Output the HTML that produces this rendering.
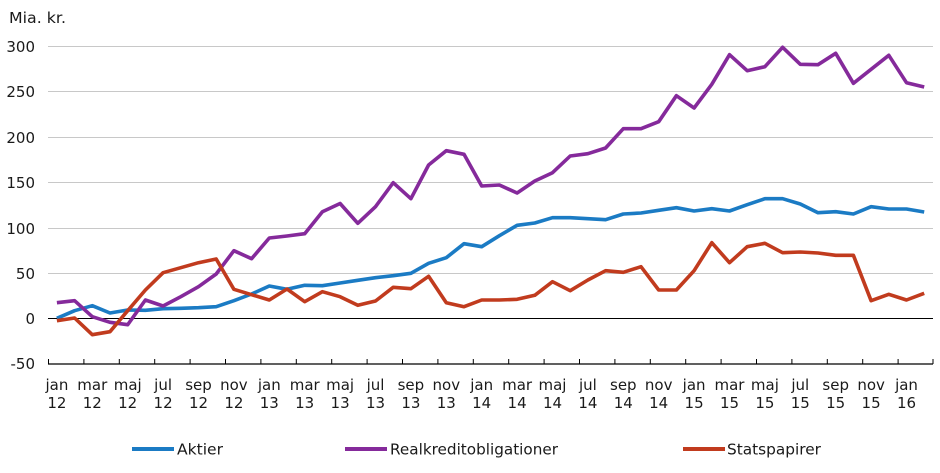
<!DOCTYPE html>
<html>
<head>
<meta charset="utf-8">
<style>
  html,body{margin:0;padding:0;background:#fff;}
  svg{display:block;}
  text{font-family:"DejaVu Sans","Liberation Sans",sans-serif;fill:#1a1a1a;font-size:15px;}
</style>
</head>
<body>
<svg width="940" height="473" viewBox="0 0 940 473" xmlns="http://www.w3.org/2000/svg">
  <rect width="940" height="473" fill="#fff"/>
  <text x="9" y="23" textLength="57" lengthAdjust="spacingAndGlyphs">Mia. kr.</text>

  <!-- gridlines -->
  <g stroke="#c8c8c8" stroke-width="1">
    <line x1="48" y1="46.5" x2="933" y2="46.5"/>
    <line x1="48" y1="91.5" x2="933" y2="91.5"/>
    <line x1="48" y1="137.5" x2="933" y2="137.5"/>
    <line x1="48" y1="182.5" x2="933" y2="182.5"/>
    <line x1="48" y1="228.5" x2="933" y2="228.5"/>
    <line x1="48" y1="273.5" x2="933" y2="273.5"/>
  </g>
  <line x1="48" y1="318.5" x2="933" y2="318.5" stroke="#000" stroke-width="1"/>
  <line x1="48" y1="364" x2="933" y2="364" stroke="#000" stroke-width="1.3"/>

  <!-- y labels -->
  <g text-anchor="end">
    <text x="35" y="52">300</text>
    <text x="35" y="97">250</text>
    <text x="35" y="143">200</text>
    <text x="35" y="188">150</text>
    <text x="35" y="234">100</text>
    <text x="35" y="279">50</text>
    <text x="35" y="324">0</text>
    <text x="35" y="369">-50</text>
  </g>

  <!-- ticks -->
  <g stroke="#000" stroke-width="1">
    <line x1="48.5" y1="359" x2="48.5" y2="364"/>
    <line x1="83.9" y1="359" x2="83.9" y2="364"/>
    <line x1="119.3" y1="359" x2="119.3" y2="364"/>
    <line x1="154.7" y1="359" x2="154.7" y2="364"/>
    <line x1="190.1" y1="359" x2="190.1" y2="364"/>
    <line x1="225.5" y1="359" x2="225.5" y2="364"/>
    <line x1="260.9" y1="359" x2="260.9" y2="364"/>
    <line x1="296.3" y1="359" x2="296.3" y2="364"/>
    <line x1="331.7" y1="359" x2="331.7" y2="364"/>
    <line x1="367.1" y1="359" x2="367.1" y2="364"/>
    <line x1="402.5" y1="359" x2="402.5" y2="364"/>
    <line x1="437.9" y1="359" x2="437.9" y2="364"/>
    <line x1="473.3" y1="359" x2="473.3" y2="364"/>
    <line x1="508.7" y1="359" x2="508.7" y2="364"/>
    <line x1="544.1" y1="359" x2="544.1" y2="364"/>
    <line x1="579.5" y1="359" x2="579.5" y2="364"/>
    <line x1="614.9" y1="359" x2="614.9" y2="364"/>
    <line x1="650.3" y1="359" x2="650.3" y2="364"/>
    <line x1="685.7" y1="359" x2="685.7" y2="364"/>
    <line x1="721.1" y1="359" x2="721.1" y2="364"/>
    <line x1="756.5" y1="359" x2="756.5" y2="364"/>
    <line x1="791.9" y1="359" x2="791.9" y2="364"/>
    <line x1="827.3" y1="359" x2="827.3" y2="364"/>
    <line x1="862.7" y1="359" x2="862.7" y2="364"/>
    <line x1="898.1" y1="359" x2="898.1" y2="364"/>
    <line x1="933" y1="359" x2="933" y2="364"/>
  </g>

  <!-- x labels -->
  <g text-anchor="middle">
    <text x="56.9" y="390">jan</text><text x="56.9" y="408">12</text>
    <text x="92.3" y="390">mar</text><text x="92.3" y="408">12</text>
    <text x="127.7" y="390">maj</text><text x="127.7" y="408">12</text>
    <text x="163.1" y="390">jul</text><text x="163.1" y="408">12</text>
    <text x="198.5" y="390">sep</text><text x="198.5" y="408">12</text>
    <text x="233.9" y="390">nov</text><text x="233.9" y="408">12</text>
    <text x="269.3" y="390">jan</text><text x="269.3" y="408">13</text>
    <text x="304.7" y="390">mar</text><text x="304.7" y="408">13</text>
    <text x="340.1" y="390">maj</text><text x="340.1" y="408">13</text>
    <text x="375.5" y="390">jul</text><text x="375.5" y="408">13</text>
    <text x="410.9" y="390">sep</text><text x="410.9" y="408">13</text>
    <text x="446.3" y="390">nov</text><text x="446.3" y="408">13</text>
    <text x="481.7" y="390">jan</text><text x="481.7" y="408">14</text>
    <text x="517.1" y="390">mar</text><text x="517.1" y="408">14</text>
    <text x="552.5" y="390">maj</text><text x="552.5" y="408">14</text>
    <text x="587.9" y="390">jul</text><text x="587.9" y="408">14</text>
    <text x="623.3" y="390">sep</text><text x="623.3" y="408">14</text>
    <text x="658.7" y="390">nov</text><text x="658.7" y="408">14</text>
    <text x="694.1" y="390">jan</text><text x="694.1" y="408">15</text>
    <text x="729.5" y="390">mar</text><text x="729.5" y="408">15</text>
    <text x="764.9" y="390">maj</text><text x="764.9" y="408">15</text>
    <text x="800.3" y="390">jul</text><text x="800.3" y="408">15</text>
    <text x="835.7" y="390">sep</text><text x="835.7" y="408">15</text>
    <text x="871.1" y="390">nov</text><text x="871.1" y="408">15</text>
    <text x="906.5" y="390">jan</text><text x="906.5" y="408">16</text>
  </g>

  <!-- series -->
  <g fill="none" stroke-width="3.6" stroke-linejoin="round" stroke-linecap="butt">
    <!-- Aktier -->
    <polyline stroke="#1b7bc4" points="56.9,318.3 74.6,310.7 92.3,305.7 110,313 127.7,310 145.4,310.3 163.1,308.7 180.8,308.3 198.5,307.7 216.2,306.7 233.9,300.7 251.6,294 269.3,286 287,289.3 304.7,285.3 322.4,285.7 340.1,283 357.8,280.3 375.5,277.7 393.2,275.7 410.9,273.3 428.6,263.3 446.3,257.7 464,243.7 481.7,246.7 499.4,235.7 517.1,225.3 534.8,223 552.5,217.7 570.2,217.7 587.9,218.7 605.6,219.7 623.3,214 641,213 658.7,210.3 676.4,207.7 694.1,211 711.8,208.7 729.5,211 747.2,204.7 764.9,198.7 782.6,198.7 800.3,204 818,212.7 835.7,211.7 853.4,214 871.1,206.7 888.8,209 906.5,209 924.2,212"/>
    <!-- Realkreditobligationer -->
    <polyline stroke="#852a9b" points="56.9,302.7 74.6,300.7 92.3,316.7 110,322.3 127.7,324.7 145.4,300 163.1,306 180.8,296.7 198.5,286.7 216.2,274 233.9,250.7 251.6,258.7 269.3,238 287,236 304.7,233.7 322.4,211.7 340.1,203.5 357.8,223.3 375.5,206.7 393.2,182.7 410.9,198.7 428.6,165 446.3,150.7 464,154.3 481.7,186 499.4,185 517.1,193 534.8,181 552.5,172.7 570.2,156 587.9,153.7 605.6,148 623.3,128.7 641,128.7 658.7,121.7 676.4,95.7 694.1,108 711.8,84.3 729.5,54.7 747.2,70.7 764.9,66.7 782.6,47.3 800.3,64.3 818,64.7 835.7,53.3 853.4,83.3 871.1,69.3 888.8,55.3 906.5,82.7 924.2,87"/>
    <!-- Statspapirer -->
    <polyline stroke="#c13b1e" points="56.9,320.7 74.6,318 92.3,334.7 110,331.7 127.7,310.7 145.4,290 163.1,272.7 180.8,267.7 198.5,262.7 216.2,259 233.9,289.3 251.6,294.7 269.3,300 287,289 304.7,301.7 322.4,291.7 340.1,296.7 357.8,305.3 375.5,301 393.2,287.3 410.9,288.7 428.6,276.3 446.3,302.7 464,306.7 481.7,300 499.4,300 517.1,299.3 534.8,295.3 552.5,281.7 570.2,290.7 587.9,280 605.6,270.7 623.3,272.3 641,266.7 658.7,290 676.4,290 694.1,270.7 711.8,242.7 729.5,262.7 747.2,246.7 764.9,243.3 782.6,252.7 800.3,252 818,253 835.7,255.3 853.4,255.3 871.1,300.7 888.8,294.3 906.5,300 924.2,293.3"/>
  </g>

  <!-- legend -->
  <g stroke-width="4">
    <line x1="132" y1="449" x2="174" y2="449" stroke="#1b7bc4"/>
    <line x1="345" y1="449" x2="387" y2="449" stroke="#852a9b"/>
    <line x1="683" y1="449" x2="725" y2="449" stroke="#c13b1e"/>
  </g>
  <text x="177" y="454.5" textLength="46" lengthAdjust="spacingAndGlyphs">Aktier</text>
  <text x="390" y="454.5" textLength="168" lengthAdjust="spacingAndGlyphs">Realkreditobligationer</text>
  <text x="727" y="454.5" textLength="94" lengthAdjust="spacingAndGlyphs">Statspapirer</text>
</svg>
</body>
</html>
